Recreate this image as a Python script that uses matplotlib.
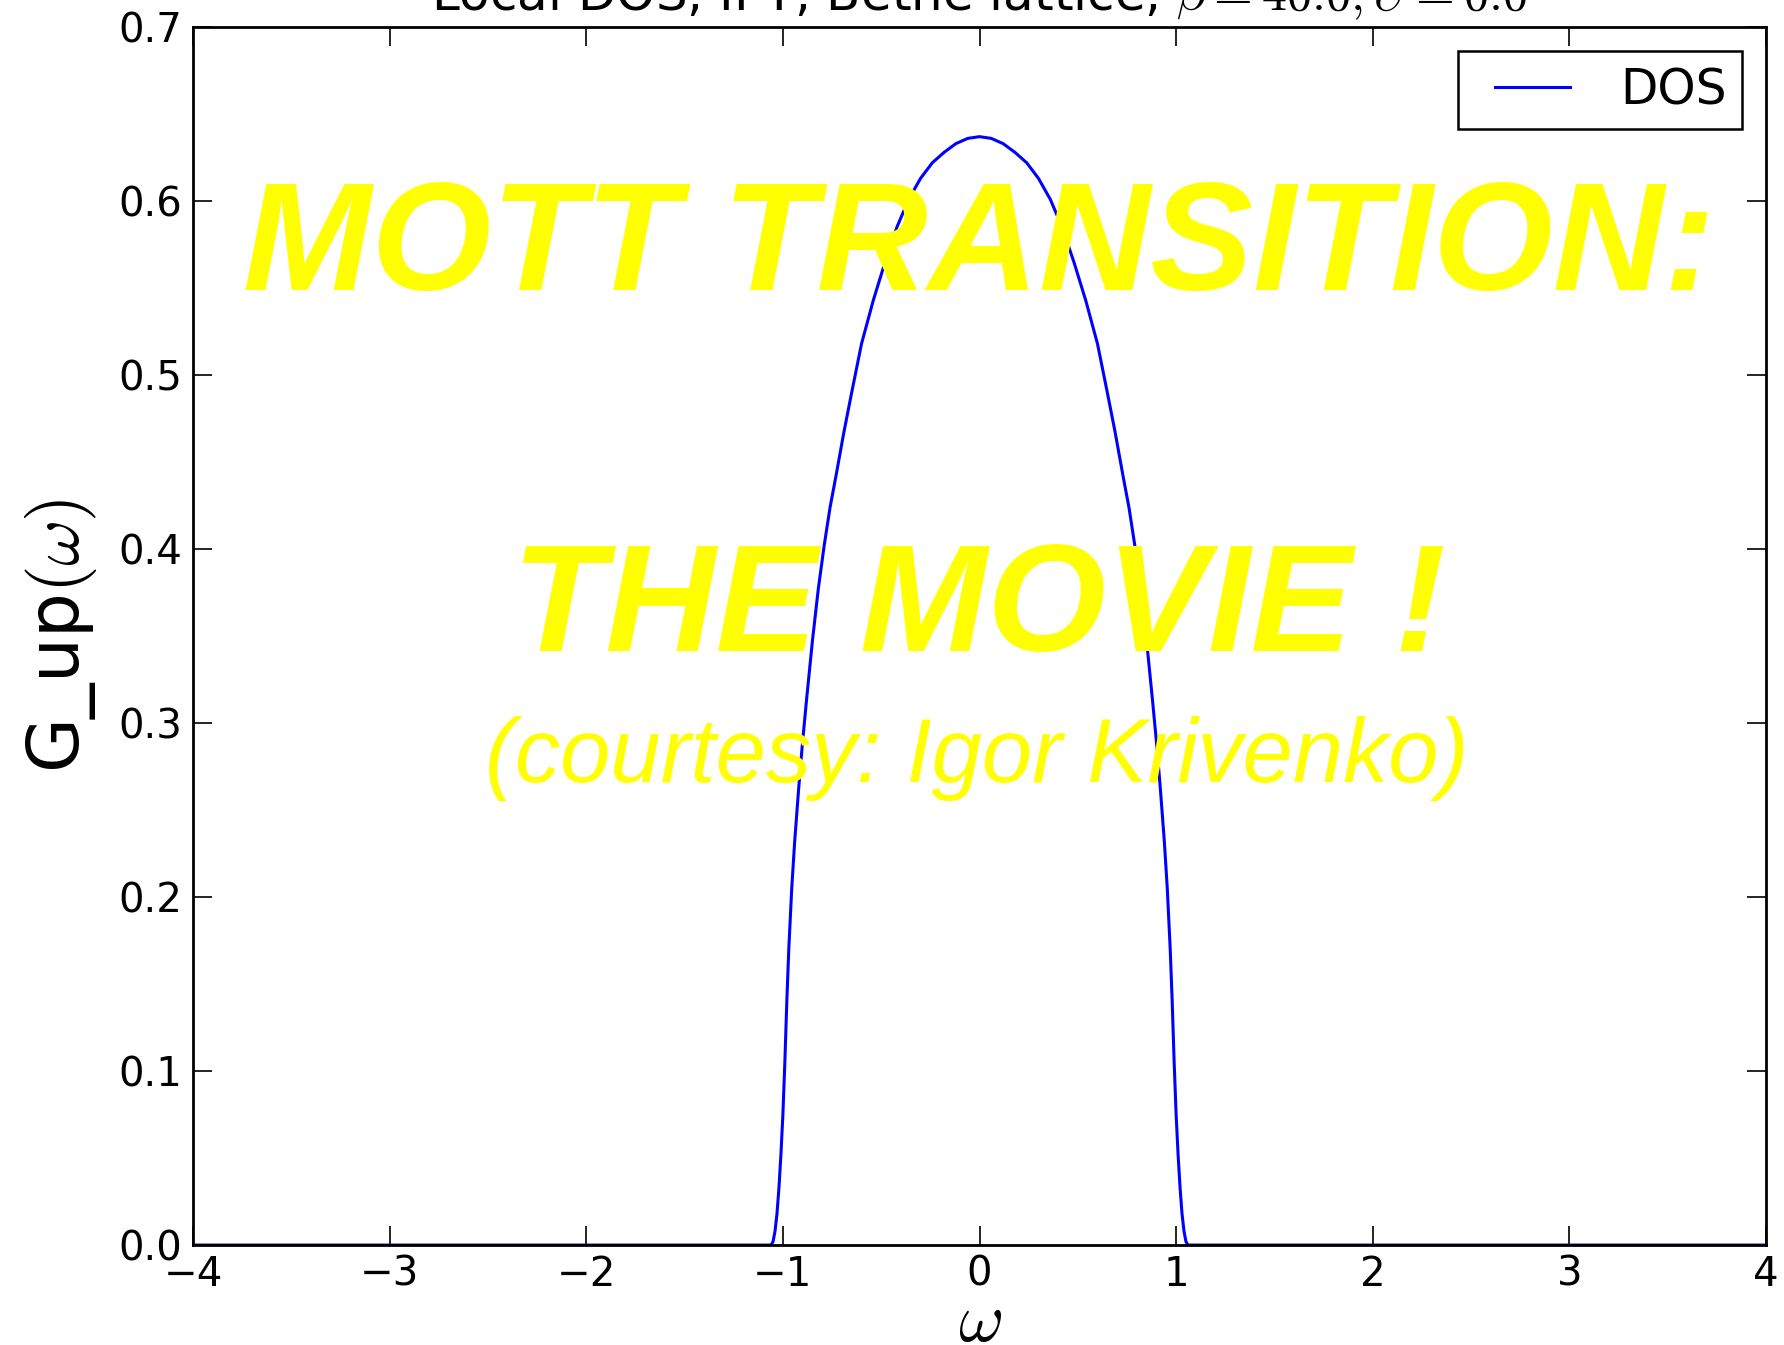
import matplotlib
matplotlib.use("Agg")
import matplotlib.pyplot as plt
from matplotlib.legend_handler import HandlerLine2D

plt.rcParams["font.family"] = "DejaVu Sans"
plt.rcParams["mathtext.fontset"] = "cm"

# local DOS of the Bethe lattice from the IPT run (beta=40, U=0)
omega = [-4.0, -1.06, -1.05, -1.04, -1.03, -1.02, -1.01, -1.00, -0.99, -0.98,
         -0.97, -0.955, -0.94, -0.92, -0.90, -0.88, -0.85, -0.82, -0.79, -0.76,
         -0.73, -0.69, -0.65, -0.60, -0.54, -0.48, -0.42, -0.36, -0.30, -0.24,
         -0.18, -0.12, -0.06, 0.0, 0.06, 0.12, 0.18, 0.24, 0.30, 0.36, 0.42,
         0.48, 0.54, 0.60, 0.65, 0.69, 0.73, 0.76, 0.79, 0.82, 0.85, 0.88,
         0.90, 0.92, 0.94, 0.955, 0.97, 0.98, 0.99, 1.00, 1.01, 1.02, 1.03,
         1.04, 1.05, 1.06, 4.0]
dos = [0.0, 0.0, 0.002, 0.008, 0.018, 0.033, 0.052, 0.075, 0.105, 0.140,
       0.170, 0.205, 0.232, 0.262, 0.289, 0.313, 0.347, 0.377, 0.402, 0.424,
       0.442, 0.467, 0.490, 0.518, 0.543, 0.565, 0.585, 0.601, 0.613, 0.622,
       0.628, 0.633, 0.636, 0.637, 0.636, 0.633, 0.628, 0.622, 0.613, 0.601, 0.585,
       0.565, 0.543, 0.518, 0.490, 0.467, 0.442, 0.424, 0.402, 0.377, 0.347, 0.313,
       0.289, 0.262, 0.232, 0.205, 0.170, 0.140, 0.105, 0.075, 0.052, 0.033, 0.018,
       0.008, 0.002, 0.0, 0.0]

xticks = [-4, -3, -2, -1, 0, 1, 2, 3, 4]
yticks = [0.0, 0.1, 0.2, 0.3, 0.4, 0.5, 0.6, 0.7]

fig = plt.figure(figsize=(17.84, 13.45), dpi=100)
ax = fig.add_axes([0.1082, 0.0743, 0.8817, 0.9056])
line, = ax.plot(omega, dos, color="b", lw=2.2, label="DOS")
ax.set_xlim(-4, 4); ax.set_ylim(0, 0.7)
ax.set_xticks(xticks); ax.set_yticks(yticks)
ax.set_yticklabels([f"{v:.1f}" for v in yticks])
ax.tick_params(direction="in", length=14, width=1.2, labelsize=29,
               top=True, right=True, pad=8)
ax.tick_params(axis="x", pad=7)
for s in ax.spines.values():
    s.set_linewidth(2.0)
ax.set_xlabel(r"$\omega$", fontsize=50, labelpad=-5)
ax.set_ylabel(r"G_up$(\omega)$", fontsize=51, labelpad=14)
leg = ax.legend(loc="upper right", fontsize=35, fancybox=False, framealpha=1,
                edgecolor="black", handlelength=2.45, handletextpad=0.58,
                borderpad=0.31, borderaxespad=0.5,
                handler_map={line: HandlerLine2D(numpoints=2, marker_pad=0.45)})
leg.get_frame().set_linewidth(1.8)

# title sits partly above the top edge
fig.text(0.549, 0.992, r"Local DOS, IPT, Bethe lattice, $\beta=40.0,U=0.0$",
         ha="center", va="baseline", fontsize=36)

# overlay banner
yel = "#ffff00"
fig.text(0.5488, 0.7845, "MOTT TRANSITION:", ha="center", va="baseline",
         fontsize=111, color=yel, family="Liberation Sans",
         weight="bold", style="italic")
fig.text(0.5488, 0.5158, "THE MOVIE !", ha="center", va="baseline",
         fontsize=110, color=yel, family="Liberation Sans",
         weight="bold", style="italic")
fig.text(0.5475, 0.4185, "(courtesy: Igor Krivenko)", ha="center", va="baseline",
         fontsize=65, color=yel, family="Liberation Sans", style="italic")

fig.savefig("out.png", dpi=100)
